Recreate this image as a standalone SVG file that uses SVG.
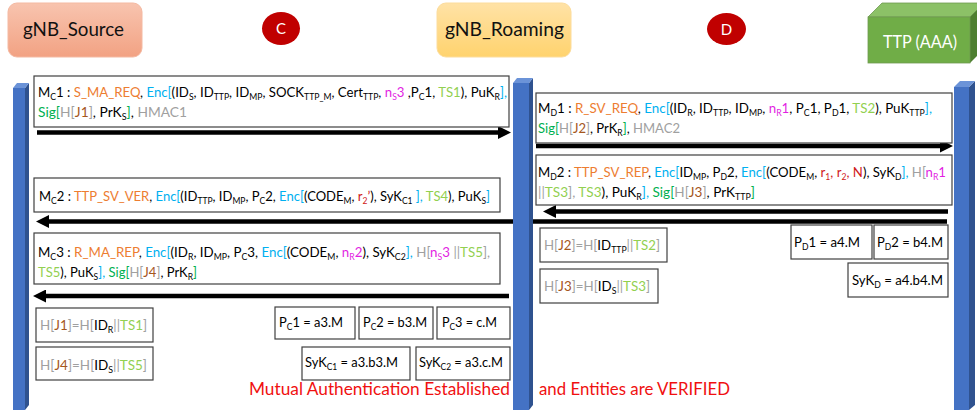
<svg xmlns="http://www.w3.org/2000/svg" width="977" height="410" viewBox="0 0 977 410">
<style>
text{font-family:Lato,"Liberation Sans",sans-serif;}
.t{font-size:13px;fill:#000;}
.s{font-size:8.5px;}
.o{fill:#ED7D31;}
.b{fill:#00B0F0;}
.m{fill:#E21FE2;}
.g{fill:#00B050;}
.lg{fill:#92D050;}
.gr{fill:#A0A0A0;}
.br{fill:#A5561C;}
.r{fill:#D01818;}
.box{fill:#fff;stroke:#404040;stroke-width:1.2;}
.hdr{font-size:19.5px;fill:#111;}
.arr{stroke:#000;stroke-width:4.5;fill:none;marker-end:url(#ah);}
.pf{fill:#4472C4;}
.ps{fill:#2F528F;}
.pt{fill:#6B93D8;}
.red{font-size:18px;fill:#F01010;}
</style>
<defs>
<linearGradient id="gs" x1="0" y1="0" x2="0" y2="1"><stop offset="0" stop-color="#F8C4AF"/><stop offset="1" stop-color="#F2A283"/></linearGradient>
<linearGradient id="gr" x1="0" y1="0" x2="0" y2="1"><stop offset="0" stop-color="#FFE2A6"/><stop offset="1" stop-color="#FFD36E"/></linearGradient>
<marker id="ah" markerUnits="userSpaceOnUse" markerWidth="13" markerHeight="13" refX="4" refY="6.5" orient="auto"><path d="M0,0 L13,6.5 L0,13 z" fill="#000"/></marker>
</defs>

<g id="gnb-source"><rect x="8" y="3" width="134" height="54" rx="9" fill="url(#gs)" stroke="#F4B9A2"/><text class="hdr" x="23" y="36" textLength="101" lengthAdjust="spacingAndGlyphs">gNB_Source</text></g>
<g id="label-c"><ellipse cx="281" cy="28.5" rx="19" ry="16.5" fill="#C00000"/><text x="281" y="34" font-size="15" fill="#fff" text-anchor="middle">C</text></g>
<g id="gnb-roaming"><rect x="437" y="3" width="134" height="54" rx="9" fill="url(#gr)" stroke="#FCDC9C"/><text class="hdr" x="445" y="36" textLength="119" lengthAdjust="spacingAndGlyphs">gNB_Roaming</text></g>
<g id="label-d"><ellipse cx="726.5" cy="29" rx="19.5" ry="16" fill="#C00000"/><text x="726.5" y="34.5" font-size="15" fill="#fff" text-anchor="middle">D</text></g>
<g id="ttp"><polygon points="868,17 882,3 984,3 970,17" fill="#8CC167" stroke="#6F9A52" stroke-width="0.8"/><polygon points="970,17 984,3 984,49 970,63" fill="#4E7F30"/><rect x="868" y="17" width="102" height="46" fill="#70AD47" stroke="#6F9A52" stroke-width="0.8"/><text x="883" y="47.5" font-size="16.5" fill="#fff" textLength="74" lengthAdjust="spacingAndGlyphs">TTP (AAA)</text></g>

<g id="connectors">
<line class="arr" x1="37" y1="132.5" x2="502" y2="132.5"/>
<line class="arr" x1="536" y1="146" x2="944" y2="146"/>
<line class="arr" x1="948" y1="211.5" x2="552" y2="211.5"/>
<line class="arr" x1="947" y1="221.5" x2="45" y2="221.5"/>
<line class="arr" x1="509" y1="296" x2="42" y2="296"/>
</g>

<g id="lifeline-source"><rect class="pf" x="13" y="88" width="12" height="325"/><polygon class="ps" points="25,88 29,83 29,405 25,410"/><polygon class="pt" points="13,88 17,83 29,83 25,88"/></g>
<g id="lifeline-roaming"><rect class="pf" x="513" y="83" width="16" height="330"/><polygon class="ps" points="529,83 533,78 533,405 529,410"/><polygon class="pt" points="513,83 517,78 533,78 529,83"/></g>
<g id="lifeline-ttp"><rect class="pf" x="954" y="87" width="15" height="326"/><polygon class="ps" points="969,87 975,81 975,405 969,410"/><polygon class="pt" points="954,87 960,81 975,81 969,87"/></g>

<g id="msg-mc1"><rect class="box" x="34" y="76" width="475" height="51"/>
<text class="t" x="38" y="97" textLength="469" lengthAdjust="spacingAndGlyphs">M<tspan class="s" dy="3">C</tspan><tspan dy="-3">1 : </tspan><tspan class="o">S_MA_REQ</tspan>, <tspan class="b">Enc[</tspan>(ID<tspan class="s" dy="3">S</tspan><tspan dy="-3">, ID</tspan><tspan class="s" dy="3">TTP</tspan><tspan dy="-3">, ID</tspan><tspan class="s" dy="3">MP</tspan><tspan dy="-3">, SOCK</tspan><tspan class="s" dy="3">TTP_M</tspan><tspan dy="-3">, Cert</tspan><tspan class="s" dy="3">TTP</tspan><tspan dy="-3">, </tspan><tspan class="m">n</tspan><tspan class="m s" dy="3">S</tspan><tspan class="m" dy="-3">3</tspan> ,P<tspan class="s" dy="3">C</tspan><tspan dy="-3">1, </tspan><tspan class="lg">TS1</tspan>), PuK<tspan class="s" dy="3">R</tspan><tspan class="b" dy="-3">],</tspan></text>
<text class="t" x="38" y="117" textLength="149" lengthAdjust="spacingAndGlyphs"><tspan class="g">Sig[</tspan><tspan class="gr">H[</tspan><tspan class="br">J1</tspan><tspan class="gr">]</tspan>, PrK<tspan class="s" dy="3">S</tspan><tspan class="g" dy="-3">]</tspan>, <tspan class="gr">HMAC1</tspan></text>
</g>

<g id="msg-md1"><rect class="box" x="536" y="93" width="416" height="50"/>
<text class="t" x="538" y="113" textLength="394" lengthAdjust="spacingAndGlyphs">M<tspan class="s" dy="3">D</tspan><tspan dy="-3">1 : </tspan><tspan class="o">R_SV_REQ</tspan>, <tspan class="b">Enc[</tspan>(ID<tspan class="s" dy="3">R</tspan><tspan dy="-3">, ID</tspan><tspan class="s" dy="3">TTP</tspan><tspan dy="-3">, ID</tspan><tspan class="s" dy="3">MP</tspan><tspan dy="-3">, </tspan><tspan class="m">n</tspan><tspan class="m s" dy="3">R</tspan><tspan class="m" dy="-3">1</tspan>, P<tspan class="s" dy="3">C</tspan><tspan dy="-3">1, P</tspan><tspan class="s" dy="3">D</tspan><tspan dy="-3">1, </tspan><tspan class="lg">TS2</tspan>), PuK<tspan class="s" dy="3">TTP</tspan><tspan class="b" dy="-3">],</tspan></text>
<text class="t" x="538" y="133" textLength="142" lengthAdjust="spacingAndGlyphs"><tspan class="g">Sig[</tspan><tspan class="gr">H[</tspan><tspan class="br">J2</tspan><tspan class="gr">]</tspan>, PrK<tspan class="s" dy="3">R</tspan><tspan class="g" dy="-3">]</tspan>, <tspan class="gr">HMAC2</tspan></text>
</g>

<g id="msg-md2"><rect class="box" x="536" y="155" width="416" height="50"/>
<text class="t" x="538" y="177" textLength="408" lengthAdjust="spacingAndGlyphs">M<tspan class="s" dy="3">D</tspan><tspan dy="-3">2 : </tspan><tspan class="o">TTP_SV_REP</tspan>, <tspan class="b">Enc[</tspan>ID<tspan class="s" dy="3">MP</tspan><tspan dy="-3">, P</tspan><tspan class="s" dy="3">D</tspan><tspan dy="-3">2, </tspan><tspan class="b">Enc[</tspan>(CODE<tspan class="s" dy="3">M</tspan><tspan dy="-3">, </tspan><tspan class="r">r</tspan><tspan class="r s" dy="3">1</tspan><tspan class="r" dy="-3">, r</tspan><tspan class="r s" dy="3">2</tspan><tspan class="r" dy="-3">, N</tspan>), SyK<tspan class="s" dy="3">D</tspan><tspan class="b" dy="-3">],</tspan> <tspan class="gr">H[</tspan><tspan class="m">n</tspan><tspan class="m s" dy="3">R</tspan><tspan class="m" dy="-3">1</tspan></text>
<text class="t" x="538" y="197" textLength="217" lengthAdjust="spacingAndGlyphs"><tspan class="gr">||</tspan><tspan class="lg">TS3</tspan><tspan class="gr">],</tspan> <tspan class="lg">TS3</tspan>), PuK<tspan class="s" dy="3">R</tspan><tspan class="b" dy="-3">],</tspan> <tspan class="g">Sig[</tspan><tspan class="gr">H[</tspan><tspan class="br">J3</tspan><tspan class="gr">]</tspan>, PrK<tspan class="s" dy="3">TTP</tspan><tspan class="g" dy="-3">]</tspan></text>
</g>

<g id="msg-mc2"><rect class="box" x="34" y="178" width="466" height="34"/>
<text class="t" x="39" y="200.5" textLength="451" lengthAdjust="spacingAndGlyphs">M<tspan class="s" dy="3">C</tspan><tspan dy="-3">2 : </tspan><tspan class="o">TTP_SV_VER</tspan>, <tspan class="b">Enc[</tspan>(ID<tspan class="s" dy="3">TTP</tspan><tspan dy="-3">, ID</tspan><tspan class="s" dy="3">MP</tspan><tspan dy="-3">, P</tspan><tspan class="s" dy="3">C</tspan><tspan dy="-3">2, </tspan><tspan class="b">Enc[</tspan>(CODE<tspan class="s" dy="3">M</tspan><tspan dy="-3">, </tspan><tspan class="r">r</tspan><tspan class="r s" dy="3">2</tspan><tspan class="r" dy="-3">’</tspan>), SyK<tspan class="s" dy="3">C1</tspan><tspan dy="-3"> </tspan><tspan class="b">],</tspan> <tspan class="lg">TS4</tspan>), PuK<tspan class="s" dy="3">S</tspan><tspan class="b" dy="-3">]</tspan></text>
</g>

<g id="msg-mc3"><rect class="box" x="34" y="233" width="466" height="51"/>
<text class="t" x="38" y="256.5" textLength="452" lengthAdjust="spacingAndGlyphs">M<tspan class="s" dy="3">C</tspan><tspan dy="-3">3 : </tspan><tspan class="o">R_MA_REP</tspan>, <tspan class="b">Enc[</tspan>(ID<tspan class="s" dy="3">R</tspan><tspan dy="-3">, ID</tspan><tspan class="s" dy="3">MP</tspan><tspan dy="-3">, P</tspan><tspan class="s" dy="3">C</tspan><tspan dy="-3">3, </tspan><tspan class="b">Enc[</tspan>(CODE<tspan class="s" dy="3">M</tspan><tspan dy="-3">, </tspan><tspan class="m">n</tspan><tspan class="m s" dy="3">R</tspan><tspan class="m" dy="-3">2</tspan>), SyK<tspan class="s" dy="3">C2</tspan><tspan class="b" dy="-3">],</tspan> <tspan class="gr">H[</tspan><tspan class="m">n</tspan><tspan class="m s" dy="3">S</tspan><tspan class="m" dy="-3">3</tspan><tspan class="gr"> ||</tspan><tspan class="lg">TS5</tspan><tspan class="gr">],</tspan></text>
<text class="t" x="38" y="276.5" textLength="159" lengthAdjust="spacingAndGlyphs"><tspan class="lg">TS5</tspan>), PuK<tspan class="s" dy="3">S</tspan><tspan class="b" dy="-3">],</tspan> <tspan class="g">Sig[</tspan><tspan class="gr">H[</tspan><tspan class="br">J4</tspan><tspan class="gr">]</tspan>, PrK<tspan class="s" dy="3">R</tspan><tspan class="g" dy="-3">]</tspan></text>
</g>

<g id="hash-j1"><rect class="box" x="36" y="308" width="117" height="34"/><text class="t" x="40" y="330" textLength="107" lengthAdjust="spacingAndGlyphs"><tspan class="gr">H[</tspan><tspan class="br">J1</tspan><tspan class="gr">]=H[</tspan>ID<tspan class="s" dy="3">R</tspan><tspan class="gr" dy="-3">||</tspan><tspan class="lg">TS1</tspan><tspan class="gr">]</tspan></text></g>
<g id="hash-j4"><rect class="box" x="36" y="347" width="117" height="33"/><text class="t" x="40" y="369.5" textLength="107" lengthAdjust="spacingAndGlyphs"><tspan class="gr">H[</tspan><tspan class="br">J4</tspan><tspan class="gr">]=H[</tspan>ID<tspan class="s" dy="3">S</tspan><tspan class="gr" dy="-3">||</tspan><tspan class="lg">TS5</tspan><tspan class="gr">]</tspan></text></g>
<g id="pc1"><rect class="box" x="275" y="307" width="80" height="32"/><text class="t" x="279" y="327" textLength="64" lengthAdjust="spacingAndGlyphs">P<tspan class="s" dy="3">C</tspan><tspan dy="-3">1 = a3.M</tspan></text></g>
<g id="pc2"><rect class="box" x="359" y="307" width="74" height="32"/><text class="t" x="363" y="327" textLength="64" lengthAdjust="spacingAndGlyphs">P<tspan class="s" dy="3">C</tspan><tspan dy="-3">2 = b3.M</tspan></text></g>
<g id="pc3"><rect class="box" x="437" y="307" width="73" height="32"/><text class="t" x="442" y="327" textLength="55" lengthAdjust="spacingAndGlyphs">P<tspan class="s" dy="3">C</tspan><tspan dy="-3">3 = c.M</tspan></text></g>
<g id="sykc1"><rect class="box" x="302" y="347" width="108" height="33"/><text class="t" x="305" y="367" textLength="93" lengthAdjust="spacingAndGlyphs">SyK<tspan class="s" dy="3">C1</tspan><tspan dy="-3"> = a3.b3.M</tspan></text></g>
<g id="sykc2"><rect class="box" x="416" y="347" width="94" height="33"/><text class="t" x="419" y="367" textLength="84" lengthAdjust="spacingAndGlyphs">SyK<tspan class="s" dy="3">C2</tspan><tspan dy="-3"> = a3.c.M</tspan></text></g>

<g id="hash-j2"><rect class="box" x="540" y="228" width="127" height="34"/><text class="t" x="544" y="250" textLength="116" lengthAdjust="spacingAndGlyphs"><tspan class="gr">H[</tspan><tspan class="br">J2</tspan><tspan class="gr">]=H[</tspan>ID<tspan class="s" dy="3">TTP</tspan><tspan class="gr" dy="-3">||</tspan><tspan class="lg">TS2</tspan><tspan class="gr">]</tspan></text></g>
<g id="hash-j3"><rect class="box" x="540" y="269" width="118" height="34"/><text class="t" x="544" y="290.5" textLength="106" lengthAdjust="spacingAndGlyphs"><tspan class="gr">H[</tspan><tspan class="br">J3</tspan><tspan class="gr">]=H[</tspan>ID<tspan class="s" dy="3">S</tspan><tspan class="gr" dy="-3">||</tspan><tspan class="lg">TS3</tspan><tspan class="gr">]</tspan></text></g>
<g id="pd1"><rect class="box" x="791" y="225" width="81" height="34"/><text class="t" x="794" y="246.5" textLength="66" lengthAdjust="spacingAndGlyphs">P<tspan class="s" dy="3">D</tspan><tspan dy="-3">1 = a4.M</tspan></text></g>
<g id="pd2"><rect class="box" x="874" y="225" width="74" height="34"/><text class="t" x="877" y="246.5" textLength="66" lengthAdjust="spacingAndGlyphs">P<tspan class="s" dy="3">D</tspan><tspan dy="-3">2 = b4.M</tspan></text></g>
<g id="sykd"><rect class="box" x="848" y="263" width="100" height="34"/><text class="t" x="852" y="285" textLength="91" lengthAdjust="spacingAndGlyphs">SyK<tspan class="s" dy="3">D</tspan><tspan dy="-3"> = a4.b4.M</tspan></text></g>

<g id="result">
<text class="red" x="249" y="395" textLength="261" lengthAdjust="spacingAndGlyphs">Mutual Authentication Established</text>
<text class="red" x="539" y="395" textLength="191" lengthAdjust="spacingAndGlyphs">and Entities are VERIFIED</text>
</g>
</svg>
